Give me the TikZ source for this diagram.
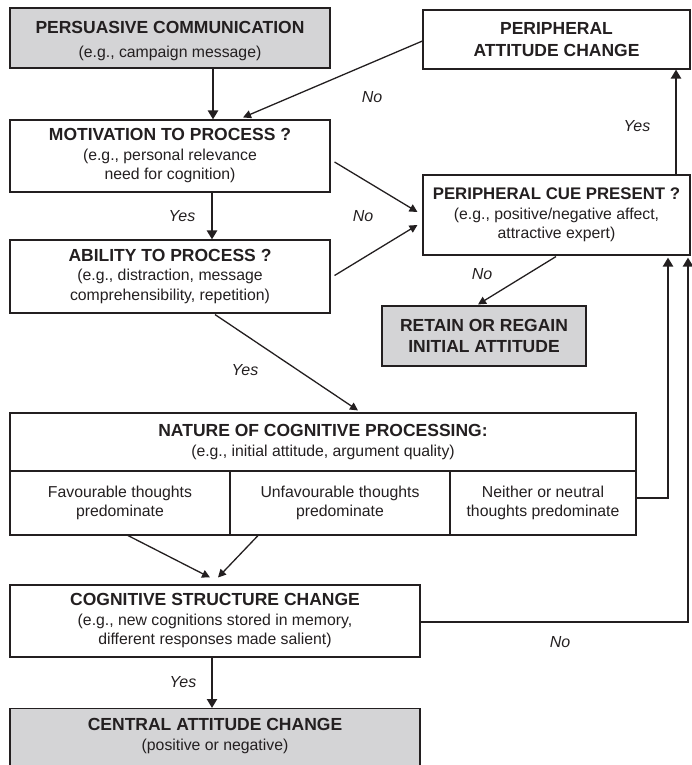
\documentclass[tikz,border=0pt]{standalone}
\usepackage{fontspec}
\setmainfont{Liberation Sans}
\usetikzlibrary{arrows.meta,calc}
\definecolor{ink}{HTML}{231F20}
\definecolor{boxgrey}{HTML}{D4D4D6}
\newcommand{\ttl}[1]{{\bfseries\fontsize{17.5}{20}\selectfont #1}}
\newcommand{\ttlsmall}[1]{{\bfseries\fontsize{16.8}{20}\selectfont #1}}
\tikzset{
  box/.style={draw=ink, line width=1.1pt, rectangle, inner sep=0pt, align=center,
    text=ink, font=\fontsize{15.8}{19.5}\selectfont},
  greybox/.style={box, fill=boxgrey},
  boxtext/.style={box, draw=none, fill=none},
  arr/.style={draw=ink, line width=1.3pt, -{Triangle[length=8pt,width=8pt]}},
  thick arr/.style={arr, line width=2.3pt, -{Triangle[length=9pt,width=10pt]}},
  lbl/.style={font=\itshape\fontsize{16}{18}\selectfont, text=ink}
}
\begin{document}
\begin{tikzpicture}[x=1pt,y=-1pt]
\useasboundingbox (0,0) rectangle (691,765);

% left column
\node[greybox, minimum width=320pt, minimum height=60pt] (pc) at (170,38) {};
\node[boxtext] (pctxt) at (170,41)
  {\ttl{PERSUASIVE COMMUNICATION}\\[4pt](e.g., campaign message)};
\node[box, minimum width=320pt, minimum height=72pt] (mot) at (170,156)
  {\ttl{MOTIVATION TO PROCESS ?}\\(e.g., personal relevance\\need for cognition)};
\node[box, minimum width=320pt, minimum height=73pt] (abl) at (170,276.5)
  {\ttl{ABILITY TO PROCESS ?}\\(e.g., distraction, message\\comprehensibility, repetition)};

% right column
\node[box, minimum width=267pt, minimum height=59pt] (pac) at (556.5,39.5)
  {\ttl{PERIPHERAL}\\[3pt]\ttl{ATTITUDE CHANGE}};
\node[box, minimum width=267pt, minimum height=80pt] (pcp) at (556.5,215)
  {\ttlsmall{PERIPHERAL CUE PRESENT ?}\\(e.g., positive/negative affect,\\attractive expert)};
\node[greybox, minimum width=204pt, minimum height=60pt] (ret) at (484,336)
  {\ttl{RETAIN OR REGAIN}\\[2pt]\ttl{INITIAL ATTITUDE}};

% processing table
\node[box, minimum width=626pt, minimum height=58pt] (nat) at (323,442)
  {\ttl{NATURE OF COGNITIVE PROCESSING:}\\(e.g., initial attitude, argument quality)};
\node[box, minimum width=220pt, minimum height=64pt] (fav) at (120,503)
  {Favourable thoughts\\predominate};
\node[box, minimum width=220pt, minimum height=64pt] (unf) at (340,503)
  {Unfavourable thoughts\\predominate};
\node[box, minimum width=186pt, minimum height=64pt] (nei) at (543,503)
  {Neither or neutral\\thoughts predominate};

% outcomes
\node[box, minimum width=410pt, minimum height=72pt] (cog) at (215,621)
  {\ttl{COGNITIVE STRUCTURE CHANGE}\\(e.g., new cognitions stored in memory,\\different responses made salient)};
\node[greybox, minimum width=410pt, minimum height=70pt, anchor=north] (cen) at (215,708)
  {};
\node[boxtext, anchor=north] (centxt) at (215,718)
  {\ttl{CENTRAL ATTITUDE CHANGE}\\(positive or negative)};

% connectors
\draw[thick arr] (pc.south -| 213,0) -- (mot.north -| 213,0);
\draw[arr] (pac.west |- 0,41) -- ($(mot.north)+(73,-2)$);
\draw[thick arr] (mot.south -| 212,0) -- (abl.north -| 212,0);
\draw[arr] ($(mot.east)+(4,6)$) -- ($(pcp.west)+(-5,-3)$);
\draw[arr] ($(abl.east)+(4,-1)$) -- ($(pcp.west)+(-5,10)$);
\draw[arr] ($(pcp.south)+(-0.5,1)$) -- ($(ret.north)+(-6,-1)$);
\draw[thick arr] (pcp.north -| 676,0) -- (pac.south -| 676,0);
\draw[arr] ($(abl.south)+(45,1)$) -- ($(nat.north)+(35,-2)$);
\draw[thick arr] (nei.east |- 0,498) -| ($(pcp.south)+(111.5,2)$);
\draw[thick arr] (cog.east |- 0,622) -| ($(pcp.south)+(131.5,2)$);
\draw[arr] ($(fav.south)+(8,0)$) -- ($(cog.north)+(-5,-7)$);
\draw[arr] ($(unf.south)+(-82,0)$) -- ($(cog.north)+(3,-7)$);
\draw[thick arr] (cog.south -| 212,0) -- (cen.north -| 212,0);

% branch labels
\node[lbl] (l1) at (372,97) {No};
\node[lbl] (l2) at (182,216) {Yes};
\node[lbl] (l3) at (363,216) {No};
\node[lbl] (l4) at (482,274) {No};
\node[lbl] (l5) at (637,126) {Yes};
\node[lbl] (l6) at (245,370) {Yes};
\node[lbl] (l7) at (560,642) {No};
\node[lbl] (l8) at (183,682) {Yes};
\end{tikzpicture}
\end{document}
